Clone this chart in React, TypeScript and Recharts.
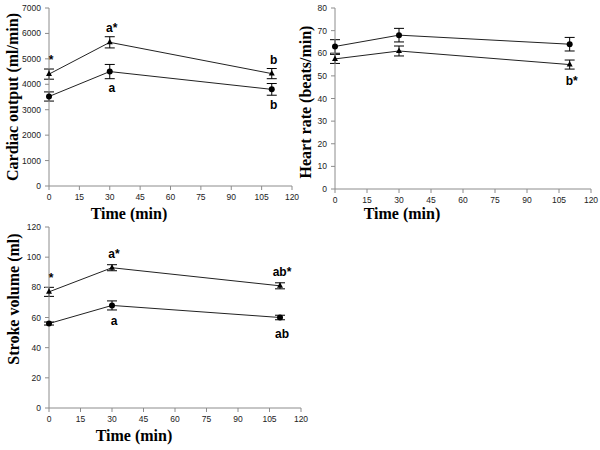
import React from 'react';
import { ComposedChart, Line, XAxis, YAxis, ErrorBar, LabelList, Label } from 'recharts';

// time after start (min)
const timePoints = [0, 30, 110];
const timeTicks = [0, 15, 30, 45, 60, 75, 90, 105, 120];

// cardiac output (ml/min)
const coTriangle = [4400, 5650, 4420];
const coTriangleErr = [200, 220, 200];
const coTriangleNotes = ['*', 'a*', 'b'];
const coCircle = [3520, 4500, 3800];
const coCircleErr = [180, 280, 230];
const coCircleNotes = ['', 'a', 'b'];
const coTicks = [0, 1000, 2000, 3000, 4000, 5000, 6000, 7000];

// heart rate (beats/min)
const hrTriangle = [57.5, 61, 55];
const hrTriangleErr = [2, 2.2, 2];
const hrTriangleNotes = ['', '', 'b*'];
const hrCircle = [63, 68, 64];
const hrCircleErr = [3, 3, 3];
const hrCircleNotes = ['', '', ''];
const hrTicks = [0, 10, 20, 30, 40, 50, 60, 70, 80];

// stroke volume (ml)
const svTriangle = [77, 93, 81];
const svTriangleErr = [3, 2, 2];
const svTriangleNotes = ['*', 'a*', 'ab*'];
const svCircle = [56, 68, 60];
const svCircleErr = [1, 3, 1.5];
const svCircleNotes = ['', 'a', 'ab'];
const svTicks = [0, 20, 40, 60, 80, 100, 120];

const buildRows = (tri, triErr, triNotes, cir, cirErr, cirNotes) =>
  timePoints.map((t, i) => ({
    t,
    tri: tri[i],
    triErr: triErr[i],
    triNote: triNotes[i],
    cir: cir[i],
    cirErr: cirErr[i],
    cirNote: cirNotes[i],
  }));

const coData = buildRows(coTriangle, coTriangleErr, coTriangleNotes, coCircle, coCircleErr, coCircleNotes);
const hrData = buildRows(hrTriangle, hrTriangleErr, hrTriangleNotes, hrCircle, hrCircleErr, hrCircleNotes);
const svData = buildRows(svTriangle, svTriangleErr, svTriangleNotes, svCircle, svCircleErr, svCircleNotes);

const AXIS = '#8c8c8c';
const SERIF = '"Liberation Serif", "Times New Roman", serif';
const SANS = '"Liberation Sans", Arial, sans-serif';

const TriangleDot = (props: any) => {
  const { cx, cy } = props;
  if (cx == null || cy == null) return null;
  return <path d={`M${cx},${cy - 3.5} L${cx + 3},${cy + 2} L${cx - 3},${cy + 2} Z`} fill="#000" />;
};

const CircleDot = (props: any) => {
  const { cx, cy } = props;
  if (cx == null || cy == null) return null;
  return <circle cx={cx} cy={cy} r={3} fill="#000" />;
};

const noteContent = (side: 'above' | 'below') => (props: any) => {
  const { value } = props;
  if (!value) return null;
  const x = props.x ?? props.viewBox?.x;
  const y = props.y ?? props.viewBox?.y;
  return (
    <text
      x={x + 2}
      y={side === 'above' ? y - 10 : y + 20}
      textAnchor="middle"
      fontFamily={SANS}
      fontWeight="bold"
      fontSize={12}
      fill="#000"
    >
      {value}
    </text>
  );
};

const tickStyle = { fontFamily: SANS, fontSize: 8.5, fill: '#222' };

const Panel: React.FC<{
  data: any[],
  yTicks: number[],
  yTitle: string,
  left: number,
  top: number,
  width: number,
  height: number,
  margin: { top: number, right: number, left: number, bottom: number },
  yAxisWidth: number,
  xTitle: [number, number],
  yTitleAt: [number, number],
  triSide: 'above' | 'below',
}> = ({ data, yTicks, yTitle, left, top, width, height, margin, yAxisWidth, xTitle, yTitleAt, triSide }) => {
  return (
    <div style={{ position: 'absolute', left, top }}>
      <ComposedChart width={width} height={height} data={data} margin={margin}>
        <XAxis
          type="number"
          dataKey="t"
          domain={[0, 120]}
          ticks={timeTicks}
          interval={0}
          axisLine={{ stroke: AXIS }}
          tickLine={{ stroke: AXIS }}
          tickSize={4}
          tickMargin={4}
          tick={tickStyle}
        >
          <Label
            content={() => (
              <text x={xTitle[0]} y={xTitle[1]} textAnchor="middle" fontFamily={SERIF} fontWeight="bold" fontSize={16} fill="#000">
                Time (min)
              </text>
            )}
          />
        </XAxis>
        <YAxis
          type="number"
          domain={[yTicks[0], yTicks[yTicks.length - 1]]}
          ticks={yTicks}
          interval={0}
          width={yAxisWidth}
          axisLine={{ stroke: AXIS }}
          tickLine={{ stroke: AXIS }}
          tickSize={4}
          tickMargin={4}
          tick={tickStyle}
        >
          <Label
            content={() => (
              <text
                x={yTitleAt[0]}
                y={yTitleAt[1]}
                transform={`rotate(-90 ${yTitleAt[0]} ${yTitleAt[1]})`}
                textAnchor="middle"
                dominantBaseline="central"
                fontFamily={SERIF}
                fontWeight="bold"
                fontSize={16}
                fill="#000"
              >
                {yTitle}
              </text>
            )}
          />
        </YAxis>
        <Line
          type="linear"
          dataKey="tri"
          stroke="#222"
          strokeWidth={1}
          dot={<TriangleDot />}
          activeDot={false}
          isAnimationActive={false}
        >
          <ErrorBar dataKey="triErr" direction="y" width={5} stroke="#000" strokeWidth={1} isAnimationActive={false} />
          <LabelList dataKey="triNote" content={noteContent(triSide)} />
        </Line>
        <Line
          type="linear"
          dataKey="cir"
          stroke="#222"
          strokeWidth={1}
          dot={<CircleDot />}
          activeDot={false}
          isAnimationActive={false}
        >
          <ErrorBar dataKey="cirErr" direction="y" width={5} stroke="#000" strokeWidth={1} isAnimationActive={false} />
          <LabelList dataKey="cirNote" content={noteContent('below')} />
        </Line>
      </ComposedChart>
    </div>
  );
};

export default function App() {
  return (
    <div style={{ position: 'absolute', left: 0, top: 0, width: 600, height: 450, background: '#fff' }}>
      <Panel
        data={coData}
        yTicks={coTicks}
        yTitle="Cardiac output (ml/min)"
        left={0}
        top={0}
        width={300}
        height={222}
        margin={{ top: 8, right: 8, left: 0, bottom: 6 }}
        yAxisWidth={49}
        xTitle={[129, 219]}
        yTitleAt={[12, 97]}
        triSide="above"
      />
      <Panel
        data={hrData}
        yTicks={hrTicks}
        yTitle="Heart rate (beats/min)"
        left={290}
        top={0}
        width={310}
        height={226}
        margin={{ top: 8, right: 9, left: 0, bottom: 7 }}
        yAxisWidth={45}
        xTitle={[112, 219]}
        yTitleAt={[15, 102]}
        triSide="below"
      />
      <Panel
        data={svData}
        yTicks={svTicks}
        yTitle="Stroke volume (ml)"
        left={0}
        top={220}
        width={320}
        height={230}
        margin={{ top: 7, right: 19, left: 0, bottom: 12 }}
        yAxisWidth={49}
        xTitle={[134, 221]}
        yTitleAt={[13, 79]}
        triSide="above"
      />
    </div>
  );
}
